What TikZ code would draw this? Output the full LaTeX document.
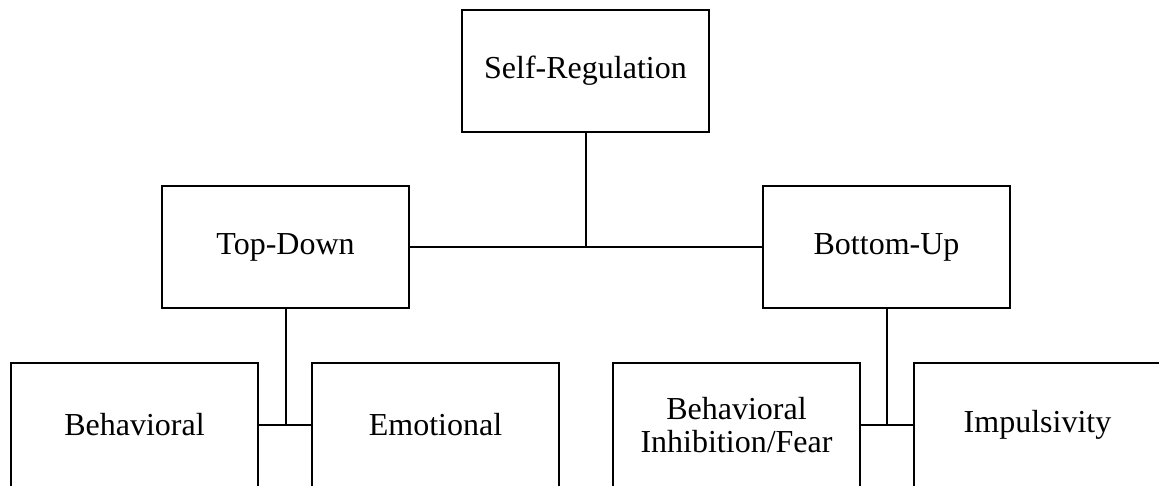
\documentclass[tikz,border=0pt]{standalone}
\usepackage{fontspec}
\setmainfont{Liberation Serif}
\tikzset{
  box/.style={draw, line width=1.5pt, minimum width=185.25pt, minimum height=91.5pt,
    inner sep=0pt, align=center, font=\fontsize{24}{24.5}\selectfont},
  lowbox/.style={box, minimum height=93pt},
  link/.style={line width=1.5pt}
}
\begin{document}
\begin{tikzpicture}[x=0.75pt,y=-0.75pt]
        \useasboundingbox (0,0) rectangle (1159,485);
        \clip (0,0) rectangle (1159,485);
        \node[box] (selfreg) at (585.5,71) {Self-Regulation};
        \node[box] (topdown) at (285.5,247) {Top-Down};
        \node[box] (bottomup) at (886.5,247) {Bottom-Up};
        \node[lowbox] (behav) at (134.5,425) {Behavioral};
        \node[lowbox] (emot) at (435.5,425) {Emotional};
        \node[lowbox] (inhib) at (736.5,425) {Behavioral\\Inhibition/Fear};
        \node[lowbox] (impuls) at (1037.5,425) {Impulsivity};
        % upper level
        \coordinate (topjoin) at (selfreg.south |- topdown.east);
        \draw[link] (selfreg.south) -- (topjoin);
        \draw[link] (topdown.east) -- (bottomup.west);
        % lower level
        \foreach \parent/\left/\right in {topdown/behav/emot, bottomup/inhib/impuls} {
            \coordinate (\parent-join) at (\parent.south |- \left.east);
            \draw[link] (\parent.south) -- (\parent-join);
            \draw[link] (\left.east) -- (\right.west);
        }
\end{tikzpicture}
\end{document}
